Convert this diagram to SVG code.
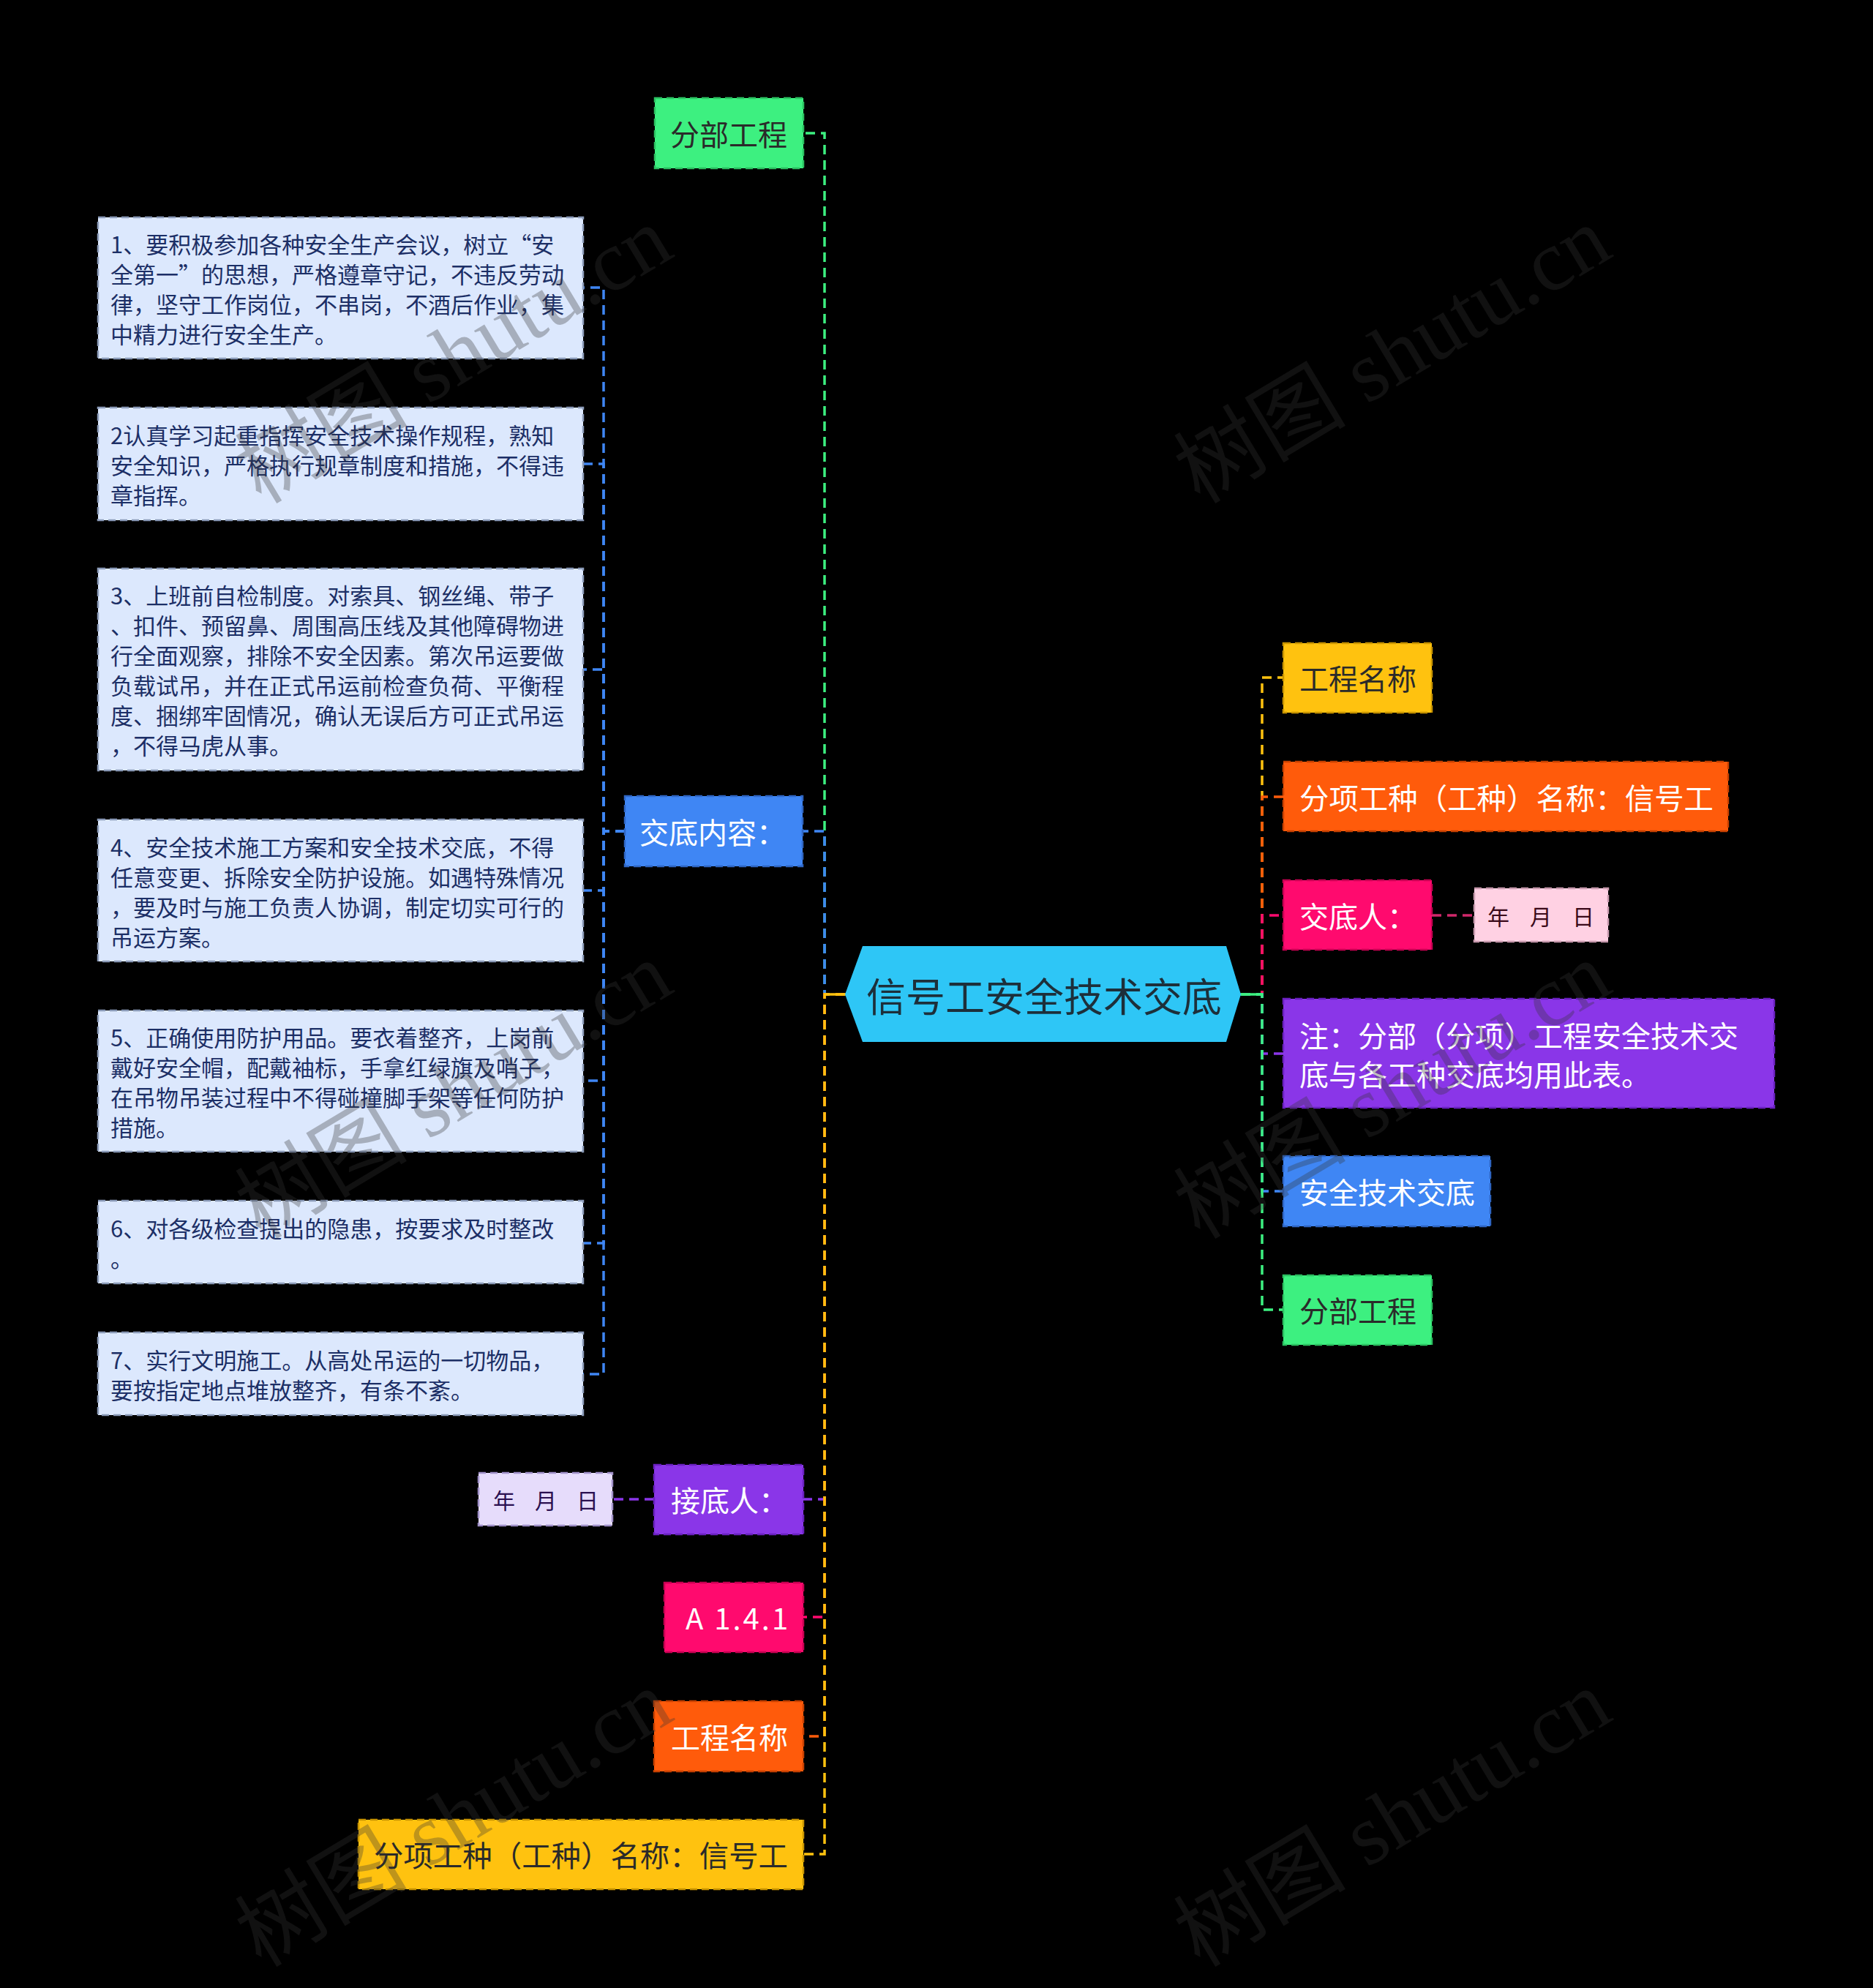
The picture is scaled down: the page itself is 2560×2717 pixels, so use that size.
<svg xmlns="http://www.w3.org/2000/svg" width="2560" height="2717" viewBox="0 0 2560 2717">
<style>
text{font-family:"Noto Sans CJK SC","Noto Sans",sans-serif;dominant-baseline:central}
.c{fill:none;stroke-width:3.5;stroke-dasharray:13 8}
.b{stroke-width:2.5;stroke-dasharray:10 6}
.t40{font-size:40px}
.t31{font-size:31px;fill:#1c2f66}
.t30{font-size:30px}
.w{fill:#ffffff}
.d{fill:#2a2a2a}
.wm{font-family:"Liberation Serif","Noto Sans CJK SC",serif;font-size:118px;fill:#353535;fill-opacity:0.32;dominant-baseline:auto}
</style>
<rect x="0" y="0" width="2560" height="2717" fill="#000000"/>

<g id="connectors">
  <path class="c" stroke="#3DF080" d="M1155 1359 H1127 V182 H1098"/>
  <path class="c" stroke="#3F86F4" d="M1155 1359 H1127 V1136 H1097"/>
  <path class="c" stroke="#8A36E8" d="M1155 1359 H1127 V2049 H1098"/>
  <path class="c" stroke="#FF0A6E" d="M1155 1359 H1127 V2210 H1098"/>
  <path class="c" stroke="#FF5B0B" d="M1155 1359 H1127 V2373 H1098"/>
  <path class="c" stroke="#FFC20F" d="M1155 1359 H1127 V2534 H1098"/>
  <line x1="1127" y1="1359" x2="1157" y2="1359" stroke="#FFC20F" stroke-width="3.5"/>
  <path class="c" stroke="#3F86F4" d="M854 1136 H825 V393 H797"/>
  <path class="c" stroke="#3F86F4" d="M854 1136 H825 V634 H797"/>
  <path class="c" stroke="#3F86F4" d="M854 1136 H825 V915 H797"/>
  <path class="c" stroke="#3F86F4" d="M854 1136 H825 V1217 H797"/>
  <path class="c" stroke="#3F86F4" d="M854 1136 H825 V1477 H797"/>
  <path class="c" stroke="#3F86F4" d="M854 1136 H825 V1699 H797"/>
  <path class="c" stroke="#3F86F4" d="M854 1136 H825 V1878 H797"/>
  <path class="c" stroke="#8A36E8" d="M894 2049 H837"/>
  <path class="c" stroke="#FFC20F" d="M1696 1359 H1725 V926 H1754"/>
  <path class="c" stroke="#FF5B0B" d="M1696 1359 H1725 V1089 H1754"/>
  <path class="c" stroke="#FF0A6E" d="M1696 1359 H1725 V1251 H1754"/>
  <path class="c" stroke="#8A36E8" d="M1696 1359 H1725 V1440 H1754"/>
  <path class="c" stroke="#3F86F4" d="M1696 1359 H1725 V1628 H1754"/>
  <path class="c" stroke="#3DF080" d="M1696 1359 H1725 V1790 H1754"/>
  <line x1="1694" y1="1359" x2="1725" y2="1359" stroke="#3DF080" stroke-width="3.5"/>
  <path class="c" stroke="#D0286A" d="M1957 1251 H2015"/>
</g>

<g id="root">
  <polygon points="1155,1359 1179,1293 1676,1293 1696,1359 1676,1424 1179,1424" fill="#2EC6F6"/>
  <text x="1427" y="1359" text-anchor="middle" font-size="54" fill="#1d2f3a">信号工安全技术交底</text>
</g>

<g id="n-fenbu-left">
  <rect class="b" x="895" y="134" width="203" height="96" fill="#3DF080" stroke="#2bc060"/>
  <text class="t40 d" x="916" y="182">分部工程</text>
</g>
<g id="n-jiaodineirong">
  <rect class="b" x="854" y="1088" width="243" height="96" fill="#3F86F4" stroke="#2f66c4"/>
  <text class="t40 w" x="874" y="1136">交底内容：</text>
</g>

<g id="n-item1">
  <rect class="b" x="134" y="297" width="663" height="193" fill="#DCE8FD" stroke="#8a9ab8"/>
  <text class="t31" x="151" y="332">1、要积极参加各种安全生产会议，树立“安</text>
  <text class="t31" x="151" y="373">全第一”的思想，严格遵章守记，不违反劳动</text>
  <text class="t31" x="151" y="414">律，坚守工作岗位，不串岗，不酒后作业，集</text>
  <text class="t31" x="151" y="455">中精力进行安全生产。</text>
</g>
<g id="n-item2">
  <rect class="b" x="134" y="557" width="663" height="154" fill="#DCE8FD" stroke="#8a9ab8"/>
  <text class="t31" x="151" y="593">2认真学习起重指挥安全技术操作规程，熟知</text>
  <text class="t31" x="151" y="634">安全知识，严格执行规章制度和措施，不得违</text>
  <text class="t31" x="151" y="675">章指挥。</text>
</g>
<g id="n-item3">
  <rect class="b" x="134" y="777" width="663" height="276" fill="#DCE8FD" stroke="#8a9ab8"/>
  <text class="t31" x="151" y="812">3、上班前自检制度。对索具、钢丝绳、带子</text>
  <text class="t31" x="151" y="853">、扣件、预留鼻、周围高压线及其他障碍物进</text>
  <text class="t31" x="151" y="894">行全面观察，排除不安全因素。第次吊运要做</text>
  <text class="t31" x="151" y="935">负载试吊，并在正式吊运前检查负荷、平衡程</text>
  <text class="t31" x="151" y="976">度、捆绑牢固情况，确认无误后方可正式吊运</text>
  <text class="t31" x="151" y="1017">，不得马虎从事。</text>
</g>
<g id="n-item4">
  <rect class="b" x="134" y="1120" width="663" height="194" fill="#DCE8FD" stroke="#8a9ab8"/>
  <text class="t31" x="151" y="1156">4、安全技术施工方案和安全技术交底，不得</text>
  <text class="t31" x="151" y="1197">任意变更、拆除安全防护设施。如遇特殊情况</text>
  <text class="t31" x="151" y="1238">，要及时与施工负责人协调，制定切实可行的</text>
  <text class="t31" x="151" y="1279">吊运方案。</text>
</g>
<g id="n-item5">
  <rect class="b" x="134" y="1381" width="663" height="193" fill="#DCE8FD" stroke="#8a9ab8"/>
  <text class="t31" x="151" y="1416">5、正确使用防护用品。要衣着整齐，上岗前</text>
  <text class="t31" x="151" y="1457">戴好安全帽，配戴袖标，手拿红绿旗及哨子，</text>
  <text class="t31" x="151" y="1498">在吊物吊装过程中不得碰撞脚手架等任何防护</text>
  <text class="t31" x="151" y="1539">措施。</text>
</g>
<g id="n-item6">
  <rect class="b" x="134" y="1641" width="663" height="113" fill="#DCE8FD" stroke="#8a9ab8"/>
  <text class="t31" x="151" y="1677">6、对各级检查提出的隐患，按要求及时整改</text>
  <text class="t31" x="151" y="1718">。</text>
</g>
<g id="n-item7">
  <rect class="b" x="134" y="1821" width="663" height="113" fill="#DCE8FD" stroke="#8a9ab8"/>
  <text class="t31" x="151" y="1857">7、实行文明施工。从高处吊运的一切物品，</text>
  <text class="t31" x="151" y="1898">要按指定地点堆放整齐，有条不紊。</text>
</g>

<g id="n-jiediren">
  <rect class="b" x="894" y="2002" width="204" height="95" fill="#8A36E8" stroke="#6a20c0"/>
  <text class="t40 w" x="917" y="2049">接底人：</text>
</g>
<g id="n-jiediren-date">
  <rect class="b" x="654" y="2013" width="183" height="72" fill="#E6DCFB" stroke="#a090c8"/>
  <text class="t30" x="674" y="2049" fill="#2a1050">年</text>
  <text class="t30" x="731" y="2049" fill="#2a1050">月</text>
  <text class="t30" x="788" y="2049" fill="#2a1050">日</text>
</g>
<g id="n-a141">
  <rect class="b" x="908" y="2163" width="190" height="95" fill="#FF0A6E" stroke="#c80052"/>
  <text class="t40 w" x="937" y="2210" font-size="42" letter-spacing="3">A 1.4.1</text>
</g>
<g id="n-gcmc-left">
  <rect class="b" x="894" y="2325" width="204" height="96" fill="#FF5B0B" stroke="#c84000"/>
  <text class="t40 w" x="917" y="2373">工程名称</text>
</g>
<g id="n-fxgz-left">
  <rect class="b" x="490" y="2487" width="608" height="95" fill="#FFC20F" stroke="#c89400"/>
  <text class="t40 d" x="511" y="2534" textLength="566" lengthAdjust="spacingAndGlyphs">分项工种（工种）名称：信号工</text>
</g>

<g id="n-gcmc-right">
  <rect class="b" x="1754" y="879" width="203" height="95" fill="#FFC20F" stroke="#c89400"/>
  <text class="t40 d" x="1776" y="926">工程名称</text>
</g>
<g id="n-fxgz-right">
  <rect class="b" x="1754" y="1041" width="608" height="95" fill="#FF5B0B" stroke="#c84000"/>
  <text class="t40 w" x="1776" y="1089" textLength="566" lengthAdjust="spacingAndGlyphs">分项工种（工种）名称：信号工</text>
</g>
<g id="n-jiaodiren">
  <rect class="b" x="1754" y="1203" width="203" height="95" fill="#FF0A6E" stroke="#c80052"/>
  <text class="t40 w" x="1776" y="1251">交底人：</text>
</g>
<g id="n-jiaodiren-date">
  <rect class="b" x="2015" y="1214" width="183" height="73" fill="#FFD1E3" stroke="#c89aae"/>
  <text class="t30" x="2033" y="1251" fill="#3a0a1a">年</text>
  <text class="t30" x="2091" y="1251" fill="#3a0a1a">月</text>
  <text class="t30" x="2149" y="1251" fill="#3a0a1a">日</text>
</g>
<g id="n-note">
  <rect class="b" x="1754" y="1365" width="671" height="149" fill="#8A36E8" stroke="#6a20c0"/>
  <text class="t40 w" x="1776" y="1414">注：分部（分项）工程安全技术交</text>
  <text class="t40 w" x="1776" y="1467">底与各工种交底均用此表。</text>
</g>
<g id="n-aqjsjd">
  <rect class="b" x="1754" y="1580" width="283" height="96" fill="#3F86F4" stroke="#2f66c4"/>
  <text class="t40 w" x="1776" y="1628">安全技术交底</text>
</g>
<g id="n-fenbu-right">
  <rect class="b" x="1754" y="1743" width="203" height="95" fill="#3DF080" stroke="#2bc060"/>
  <text class="t40 d" x="1776" y="1790">分部工程</text>
</g>

<g id="watermarks">
  <text class="wm" transform="translate(357 690) rotate(-31)">树图 shutu.cn</text>
  <text class="wm" transform="translate(1640 690) rotate(-31)">树图 shutu.cn</text>
  <text class="wm" transform="translate(357 1695) rotate(-31)">树图 shutu.cn</text>
  <text class="wm" transform="translate(1640 1695) rotate(-31)">树图 shutu.cn</text>
  <text class="wm" transform="translate(357 2690) rotate(-31)">树图 shutu.cn</text>
  <text class="wm" transform="translate(1640 2690) rotate(-31)">树图 shutu.cn</text>
</g>
</svg>
